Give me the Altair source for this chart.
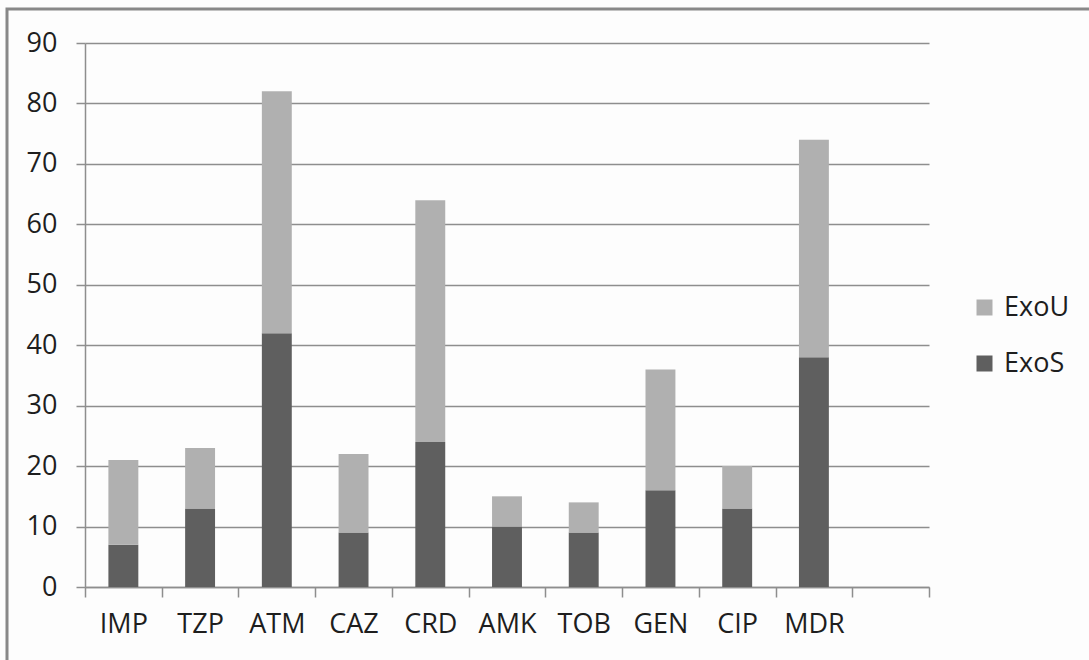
import altair as alt
import pandas as pd

categories = ["IMP", "TZP", "ATM", "CAZ", "CRD", "AMK", "TOB", "GEN", "CIP", "MDR"]
exos_values = [7, 13, 42, 9, 24, 10, 9, 16, 13, 38]
exou_values = [14, 10, 40, 13, 40, 5, 5, 20, 7, 36]
series_names = ["ExoU", "ExoS"]
series_colors = ["#b0b0b0", "#5f5f5f"]
y_ticks = list(range(0, 100, 10))
x_domain = categories + [" "]

rows = []
for c, s, u in zip(categories, exos_values, exou_values):
    rows.append({"cat": c, "series": "ExoS", "value": s, "ord": 0})
    rows.append({"cat": c, "series": "ExoU", "value": u, "ord": 1})
df = pd.DataFrame(rows)

FONT = "Open Sans"
GRID = "#8e8e8e"
FS = 27
TXT = "#1e1e1e"

bars = alt.Chart(df).mark_bar(strokeWidth=0, width=alt.RelativeBandSize(0.39)).encode(
    x=alt.X("cat:N", sort=x_domain,
            scale=alt.Scale(domain=x_domain, paddingInner=0, paddingOuter=0),
            axis=alt.Axis(title=None, labelAngle=0, labelFontSize=FS, labelFont=FONT,
                          labelColor=TXT, tickBand="extent", tickSize=10,
                          tickColor=GRID, tickWidth=1.5, domainColor=GRID, domainWidth=1.5,
                          labelPadding=14, grid=False)),
    y=alt.Y("value:Q", stack="zero",
            scale=alt.Scale(domain=[0, 90], nice=False),
            axis=alt.Axis(title=None, values=y_ticks, labelFontSize=FS, labelFont=FONT,
                          labelColor=TXT, tickSize=9, tickColor=GRID, tickWidth=1.5,
                          domainColor=GRID, domainWidth=1.5, gridColor=GRID, gridWidth=1.5,
                          labelPadding=19)),
    color=alt.Color("series:N",
                    scale=alt.Scale(domain=series_names, range=series_colors),
                    legend=alt.Legend(title=None, orient="none", legendX=886, legendY=251,
                                      symbolType="square", symbolSize=256, symbolStrokeWidth=0,
                                      labelFontSize=FS, labelFont=FONT, labelColor=TXT,
                                      labelOffset=6, rowPadding=28, padding=0)),
    order=alt.Order("ord:Q", sort="ascending"),
)

frame = alt.Chart(pd.DataFrame({"a": [0]})).mark_rect(
    filled=False, stroke="#888888", strokeWidth=3
).encode(
    x=alt.value(-78), x2=alt.value(1020), y=alt.value(-34), y2=alt.value(640)
)

chart = alt.layer(frame, bars).properties(
    width=844, height=544,
    autosize=alt.AutoSizeParams(type="none"),
    padding={"left": 85, "top": 43, "right": 160, "bottom": 73},
    background="#fdfdfd",
).configure_view(strokeWidth=0)

chart.save("out.html", embed_options={"renderer": "svg", "actions": False})
